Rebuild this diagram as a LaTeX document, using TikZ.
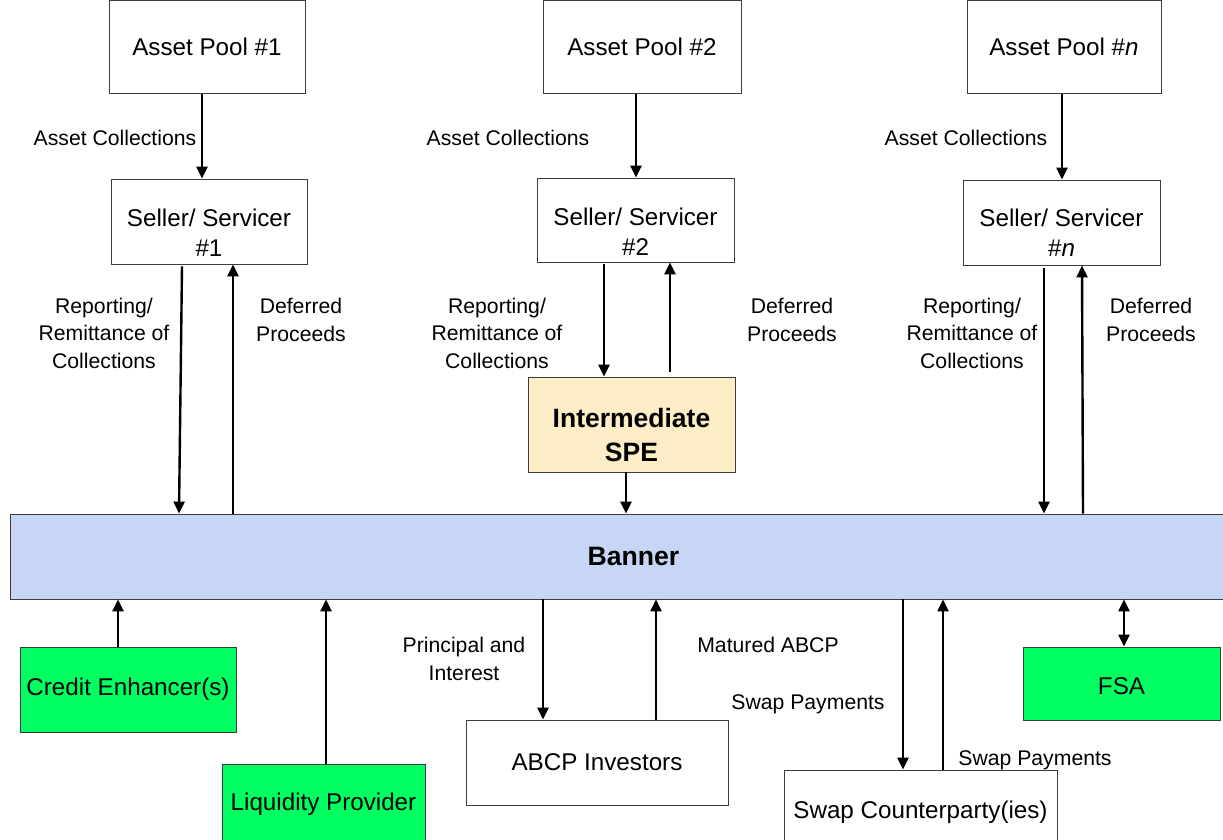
\documentclass[tikz,border=0pt]{standalone}
\usepackage{fontspec}
\setmainfont{Liberation Sans}
\usetikzlibrary{arrows.meta}
\definecolor{bannerblue}{RGB}{198,214,244}
\definecolor{spebeige}{RGB}{252,237,199}
\definecolor{brightgreen}{RGB}{0,255,96}
\definecolor{boxline}{RGB}{60,60,60}
\begin{document}
\begin{tikzpicture}[x=1pt,y=-1pt,
  box/.style={draw=boxline,line width=0.9pt,fill=white,inner sep=0pt,align=center,
    font=\fontsize{24.2}{30}\selectfont},
  greenbox/.style={box,fill=brightgreen},
  boxtext/.style={inner sep=0pt,align=center,font=\fontsize{24.2}{30}\selectfont},
  lbl/.style={align=center,inner sep=0pt,font=\fontsize{21.2}{27.5}\selectfont},
  arr/.style={line width=2.4pt,-{Triangle[length=12pt,width=11pt]}},
  darr/.style={line width=2.4pt,{Triangle[length=12pt,width=11pt]}-{Triangle[length=12pt,width=11pt]}}]
\useasboundingbox (0,0) rectangle (1223,840);
% top asset pools
\node[box,minimum width=196,minimum height=93] (ap1) at (207,47) {Asset Pool \#1};
\node[box,minimum width=198,minimum height=93] (ap2) at (642,47) {Asset Pool \#2};
\node[box,minimum width=194,minimum height=93] (apn) at (1064,47) {Asset Pool \#\textit{n}};
% sellers
\node[box,minimum width=196,minimum height=85] (ss1) at (209,221.5) {};
\node[boxtext] (ss1t) at ([yshift=-11.5]ss1.center) {Seller/ Servicer\\\#1};
\node[box,minimum width=197,minimum height=84] (ss2) at (635.5,220) {};
\node[boxtext] (ss2t) at ([yshift=-12]ss2.center) {Seller/ Servicer\\\#2};
\node[box,minimum width=197,minimum height=85] (ssn) at (1061.5,222.5) {};
\node[boxtext] (ssnt) at ([yshift=-10.5]ssn.center) {Seller/ Servicer\\\#\textit{n}};
% intermediate SPE
\node[box,fill=spebeige,minimum width=207,minimum height=95] (spe) at (631.5,424.5) {};
\node[boxtext,font=\fontsize{26.5}{34}\selectfont\bfseries] (spet) at ([yshift=-10.5]spe.center) {Intermediate\\SPE};
% banner
\node[box,fill=bannerblue,minimum width=1215,minimum height=85] (bn) at (617.5,556.5) {};
\node[boxtext,font=\fontsize{26.6}{30}\selectfont\bfseries] (bnt) at ([xshift=16]bn.center) {Banner};
% bottom boxes
\node[greenbox,minimum width=216,minimum height=85] (ce) at (128,689.5) {Credit Enhancer(s)};
\node[greenbox,minimum width=203,minimum height=80] (lp) at (323.5,804) {Liquidity Provider};
\node[box,minimum width=262,minimum height=85] (ai) at (597,762.5) {ABCP Investors};
\node[box,minimum width=273,minimum height=84] (sc) at (920.5,812) {Swap Counterparty(ies)};
\node[greenbox,minimum width=197,minimum height=73] (fsa) at (1121.5,683.5) {};
\node[boxtext] (fsat) at ([yshift=-2.5]fsa.center) {FSA};
% arrows top
\draw[arr] (ap1.south -| 202,0) -- (ss1.north -| 202,0);
\draw[arr] (ap2.south -| 636,0) -- (ss2.north -| 636,0);
\draw[arr] (apn.south -| 1062,0) -- (ssn.north -| 1062,0);
% seller 1
\draw[arr] ([yshift=-2]ss1.south -| 182,0) -- (bn.north -| 179,0);
\draw[arr] (bn.north -| 233,0) -- (ss1.south -| 233,0);
% seller 2
\draw[arr] ([yshift=-2]ss2.south -| 604,0) -- (spe.north -| 604,0);
\draw[arr] ([yshift=5]spe.north -| 670,0) -- (ss2.south -| 670,0);
\draw[arr] (spe.south -| 626,0) -- (bn.north -| 626,0);
% seller n
\draw[arr] ([yshift=-3]ssn.south -| 1044,0) -- (bn.north -| 1044,0);
\draw[arr] (bn.north -| 1083,0) -- (ssn.south -| 1082,0);
% bottom
\draw[arr] (ce.north -| 118,0) -- (bn.south -| 118,0);
\draw[arr] (lp.north -| 326,0) -- (bn.south -| 326,0);
\draw[arr] (bn.south -| 543,0) -- (ai.north -| 543,0);
\draw[arr] (ai.north -| 656,0) -- (bn.south -| 656,0);
\draw[arr] (bn.south -| 903,0) -- (sc.north -| 903,0);
\draw[arr] (sc.north -| 943,0) -- (bn.south -| 943,0);
\draw[darr] (bn.south -| 1124,0) -- (fsa.north -| 1124,0);
% labels
\node[lbl] (l1) at (115,138) {Asset Collections};
\node[lbl] (l2) at (508,138) {Asset Collections};
\node[lbl] (l3) at (966,138) {Asset Collections};
\node[lbl] (r1) at (104,333) {Reporting/\\Remittance of\\Collections};
\node[lbl] (r2) at (497,333) {Reporting/\\Remittance of\\Collections};
\node[lbl] (r3) at (972,333) {Reporting/\\Remittance of\\Collections};
\node[lbl] (d1) at (301,320) {Deferred\\Proceeds};
\node[lbl] (d2) at (792,320) {Deferred\\Proceeds};
\node[lbl] (d3) at (1151,320) {Deferred\\Proceeds};
\node[lbl] (pi) at (464,659) {Principal and\\Interest};
\node[lbl] (ma) at (768,645) {Matured ABCP};
\node[lbl] (sp1) at (808,704) {Swap Payments};
\node[lbl] (sp2) at (1035,760) {Swap Payments};
\end{tikzpicture}
\end{document}
